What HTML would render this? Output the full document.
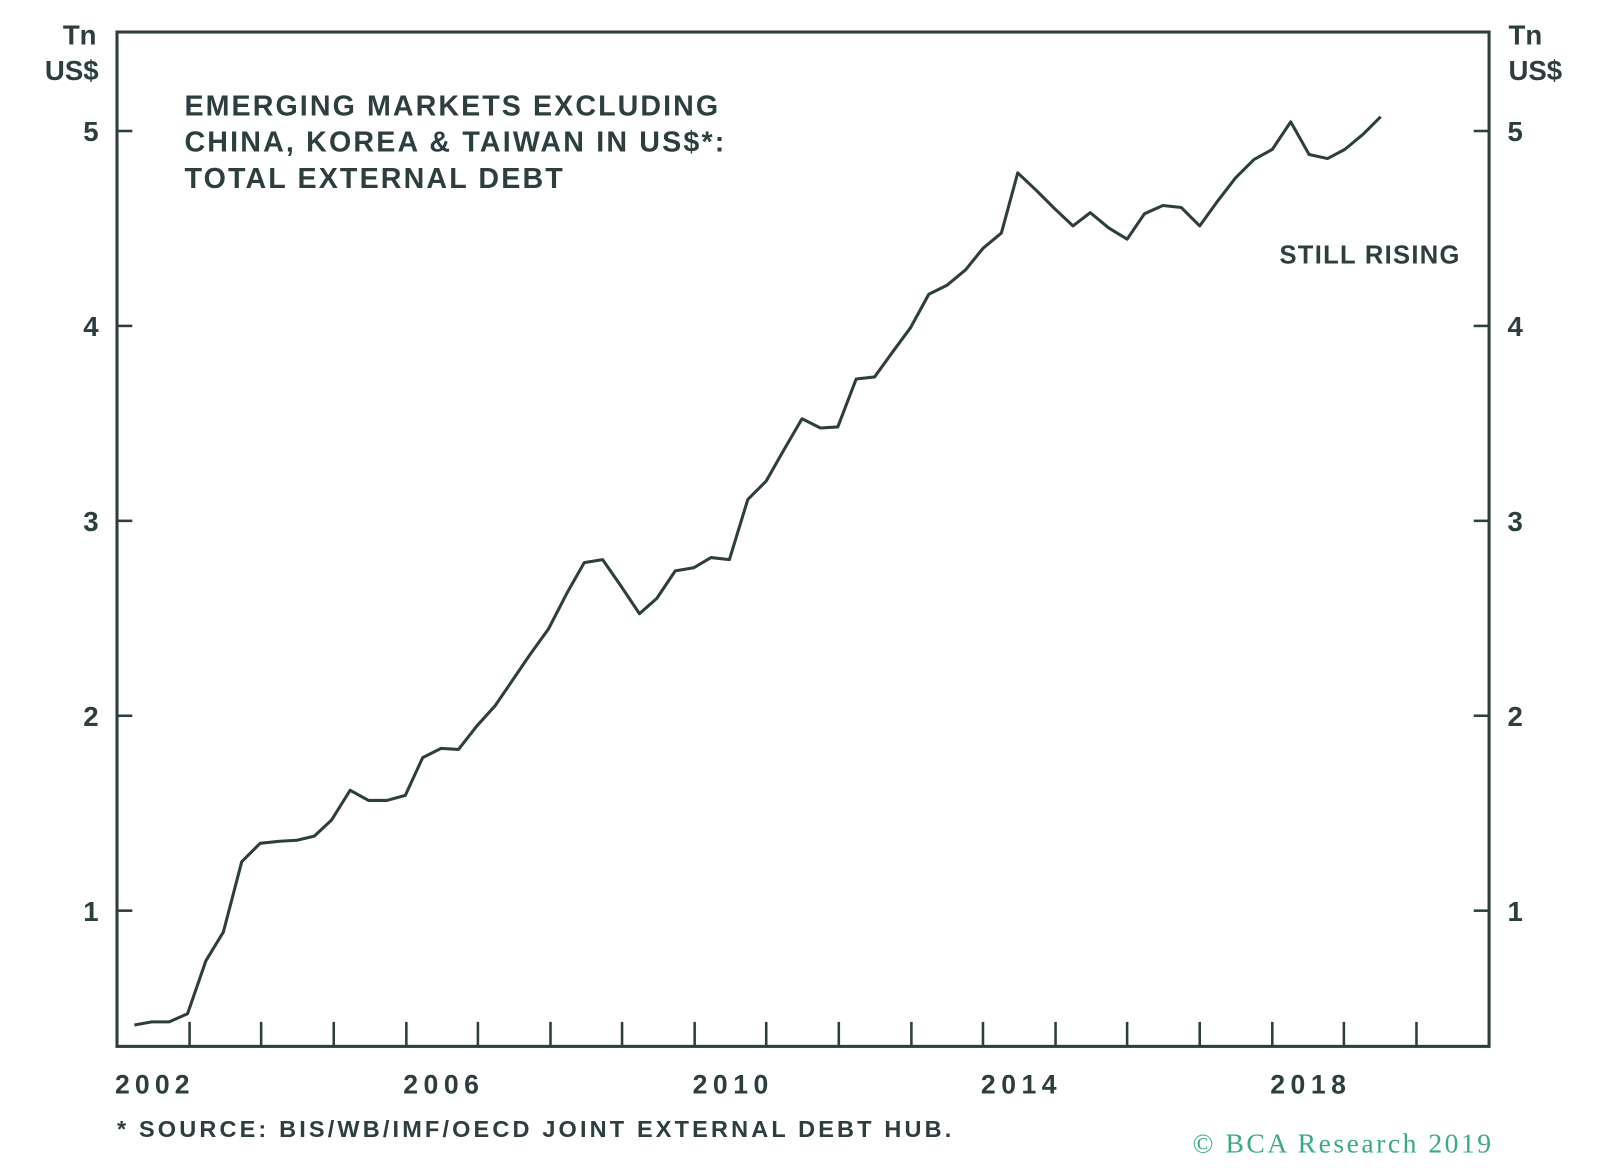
<!DOCTYPE html>
<html><head><style>body{margin:0;background:#fff}svg{display:block}</style></head>
<body>
<svg width="1600" height="1173" viewBox="0 0 1600 1173" xmlns="http://www.w3.org/2000/svg" font-family="'Liberation Sans', sans-serif" font-weight="bold" fill="#2d3e3f">
<g transform="matrix(1.0224 0 0 1.0205 -1.6 1.4)">
<rect x="116" y="30" width="1342" height="994" fill="none" stroke="#2d3e3f" stroke-width="3"/>
<g stroke="#2d3e3f" stroke-width="2.5">
<line x1="116" y1="127" x2="131" y2="127"/><line x1="116" y1="318" x2="131" y2="318"/><line x1="116" y1="509" x2="131" y2="509"/><line x1="116" y1="700" x2="131" y2="700"/><line x1="116" y1="891" x2="131" y2="891"/>
<line x1="1443" y1="127" x2="1458" y2="127"/><line x1="1443" y1="318" x2="1458" y2="318"/><line x1="1443" y1="509" x2="1458" y2="509"/><line x1="1443" y1="700" x2="1458" y2="700"/><line x1="1443" y1="891" x2="1458" y2="891"/>
<line x1="187" y1="1000" x2="187" y2="1024"/><line x1="257" y1="1000" x2="257" y2="1024"/><line x1="328" y1="1000" x2="328" y2="1024"/><line x1="399" y1="1000" x2="399" y2="1024"/><line x1="469" y1="1000" x2="469" y2="1024"/><line x1="540" y1="1000" x2="540" y2="1024"/><line x1="610" y1="1000" x2="610" y2="1024"/><line x1="681" y1="1000" x2="681" y2="1024"/><line x1="751" y1="1000" x2="751" y2="1024"/><line x1="822" y1="1000" x2="822" y2="1024"/><line x1="893" y1="1000" x2="893" y2="1024"/><line x1="963" y1="1000" x2="963" y2="1024"/><line x1="1034" y1="1000" x2="1034" y2="1024"/><line x1="1104" y1="1000" x2="1104" y2="1024"/><line x1="1175" y1="1000" x2="1175" y2="1024"/><line x1="1246" y1="1000" x2="1246" y2="1024"/><line x1="1316" y1="1000" x2="1316" y2="1024"/><line x1="1387" y1="1000" x2="1387" y2="1024"/>
</g>
<polyline fill="none" stroke="#2d3e3f" stroke-width="3" stroke-linejoin="round" points="133,1003 150,1000 167,1000 185,992 203,940 220,912 238,843 256,825 275,823 292,822 309,818 326,802 344,773 362,783 380,783 398,778 415,741 433,732 450,733 468,710 486,690 503,665 520,640 538,615 556,580 573,550 591,547 609,573 627,600 644,585 662,558 680,555 697,545 715,547 733,488 751,470 768,440 786,409 804,418 821,417 839,370 857,368 875,343 892,320 910,287 928,278 946,263 963,242 981,227 997,168 1015,185 1033,203 1051,220 1068,207 1086,222 1104,233 1121,208 1139,200 1157,202 1175,220 1193,195 1210,173 1228,155 1246,145 1264,118 1282,150 1300,154 1317,145 1335,130 1352,113"/>
<g font-size="27">
<text x="96" y="42" text-anchor="end">Tn</text><text x="98" y="77" text-anchor="end">US$</text>
<text x="1477" y="42">Tn</text><text x="1477" y="77">US$</text>
<g text-anchor="end"><text x="98" y="137">5</text><text x="98" y="328">4</text><text x="98" y="519">3</text><text x="98" y="710">2</text><text x="98" y="901">1</text></g>
<text x="1476" y="137">5</text><text x="1476" y="328">4</text><text x="1476" y="519">3</text><text x="1476" y="710">2</text><text x="1476" y="901">1</text>
</g>
<g font-size="26">
<text x="114" y="1070" textLength="73">2002</text><text x="396" y="1070" textLength="74">2006</text><text x="679" y="1070" textLength="74">2010</text><text x="961" y="1070" textLength="74">2014</text><text x="1244" y="1070" textLength="74">2018</text>
</g>
<g font-size="28">
<text x="182" y="112" textLength="522">EMERGING MARKETS EXCLUDING</text>
<text x="182" y="147" textLength="528">CHINA, KOREA &amp; TAIWAN IN US$*:</text>
<text x="182" y="183" textLength="370">TOTAL EXTERNAL DEBT</text>
</g>
<text x="1253" y="257" font-size="25" textLength="176">STILL RISING</text>
<text x="116" y="1113" font-size="23" textLength="816">* SOURCE: BIS/WB/IMF/OECD JOINT EXTERNAL DEBT HUB.</text>
<text x="1168" y="1128" font-size="27" font-weight="normal" font-family="'Liberation Serif', serif" fill="#3aa98a" textLength="292">© BCA Research 2019</text>
</g>
</svg>
</body></html>
